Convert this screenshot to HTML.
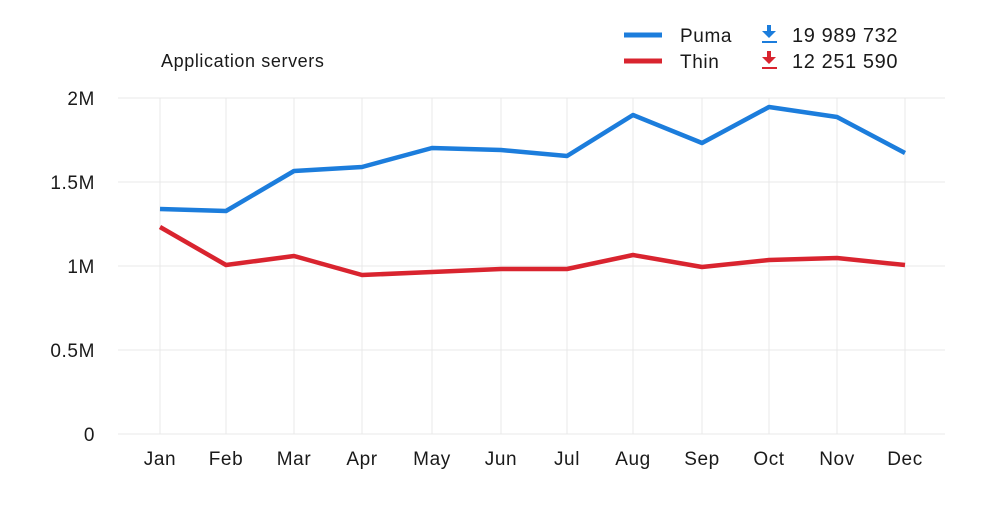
<!DOCTYPE html>
<html><head><meta charset="utf-8"><style>
body{margin:0;background:#fff;}
svg text{font-family:"Liberation Sans",sans-serif;fill:#1a1a1a;letter-spacing:0.6px;}
</style></head><body>
<svg width="1000" height="521" viewBox="0 0 1000 521" xmlns="http://www.w3.org/2000/svg">
<rect width="1000" height="521" fill="#fff"/>
<g stroke="#e8e8e8" stroke-width="1">
<line x1="118" y1="98" x2="945" y2="98"/><line x1="118" y1="182" x2="945" y2="182"/>
<line x1="118" y1="266" x2="945" y2="266"/><line x1="118" y1="350" x2="945" y2="350"/>
<line x1="118" y1="434" x2="945" y2="434"/>
<line x1="160" y1="98" x2="160" y2="434"/><line x1="226" y1="98" x2="226" y2="434"/>
<line x1="294" y1="98" x2="294" y2="434"/><line x1="362" y1="98" x2="362" y2="434"/>
<line x1="432" y1="98" x2="432" y2="434"/><line x1="501" y1="98" x2="501" y2="434"/>
<line x1="567" y1="98" x2="567" y2="434"/><line x1="633" y1="98" x2="633" y2="434"/>
<line x1="702" y1="98" x2="702" y2="434"/><line x1="769" y1="98" x2="769" y2="434"/>
<line x1="837" y1="98" x2="837" y2="434"/><line x1="905" y1="98" x2="905" y2="434"/>
</g>
<g font-size="19" text-anchor="end">
<text x="95" y="105">2M</text><text x="95" y="189">1.5M</text><text x="95" y="273">1M</text>
<text x="95" y="357">0.5M</text><text x="95" y="441">0</text>
</g>
<g font-size="19" text-anchor="middle">
<text x="160" y="465">Jan</text><text x="226" y="465">Feb</text><text x="294" y="465">Mar</text>
<text x="362" y="465">Apr</text><text x="432" y="465">May</text><text x="501" y="465">Jun</text>
<text x="567" y="465">Jul</text><text x="633" y="465">Aug</text><text x="702" y="465">Sep</text>
<text x="769" y="465">Oct</text><text x="837" y="465">Nov</text><text x="905" y="465">Dec</text>
</g>
<text x="161" y="67" font-size="18">Application servers</text>
<polyline fill="none" stroke="#1c7ddc" stroke-width="4.5" stroke-linejoin="round" points="160,209 226,211 294,171 362,167 432,148 501,150 567,156 633,115 702,143 769,107 837,117 905,153"/>
<polyline fill="none" stroke="#d9242f" stroke-width="4.5" stroke-linejoin="round" points="160,227 226,265 294,256 362,275 432,272 501,269 567,269 633,255 702,267 769,260 837,258 905,265"/>
<line x1="624" y1="35" x2="662" y2="35" stroke="#1c7ddc" stroke-width="5"/>
<line x1="624" y1="61" x2="662" y2="61" stroke="#d9242f" stroke-width="5"/>
<text x="680" y="42" font-size="19">Puma</text>
<text x="680" y="68" font-size="19">Thin</text>
<g fill="#1c7ddc"><rect x="767" y="25" width="4" height="7"/><polygon points="762,31 776,31 769,38"/><rect x="762" y="41" width="15" height="2"/></g>
<g fill="#d9242f"><rect x="767" y="51" width="4" height="7"/><polygon points="762,57 776,57 769,64"/><rect x="762" y="67" width="15" height="2"/></g>
<text x="792" y="42" font-size="20">19 989 732</text>
<text x="792" y="68" font-size="20">12 251 590</text>
</svg>
</body></html>
